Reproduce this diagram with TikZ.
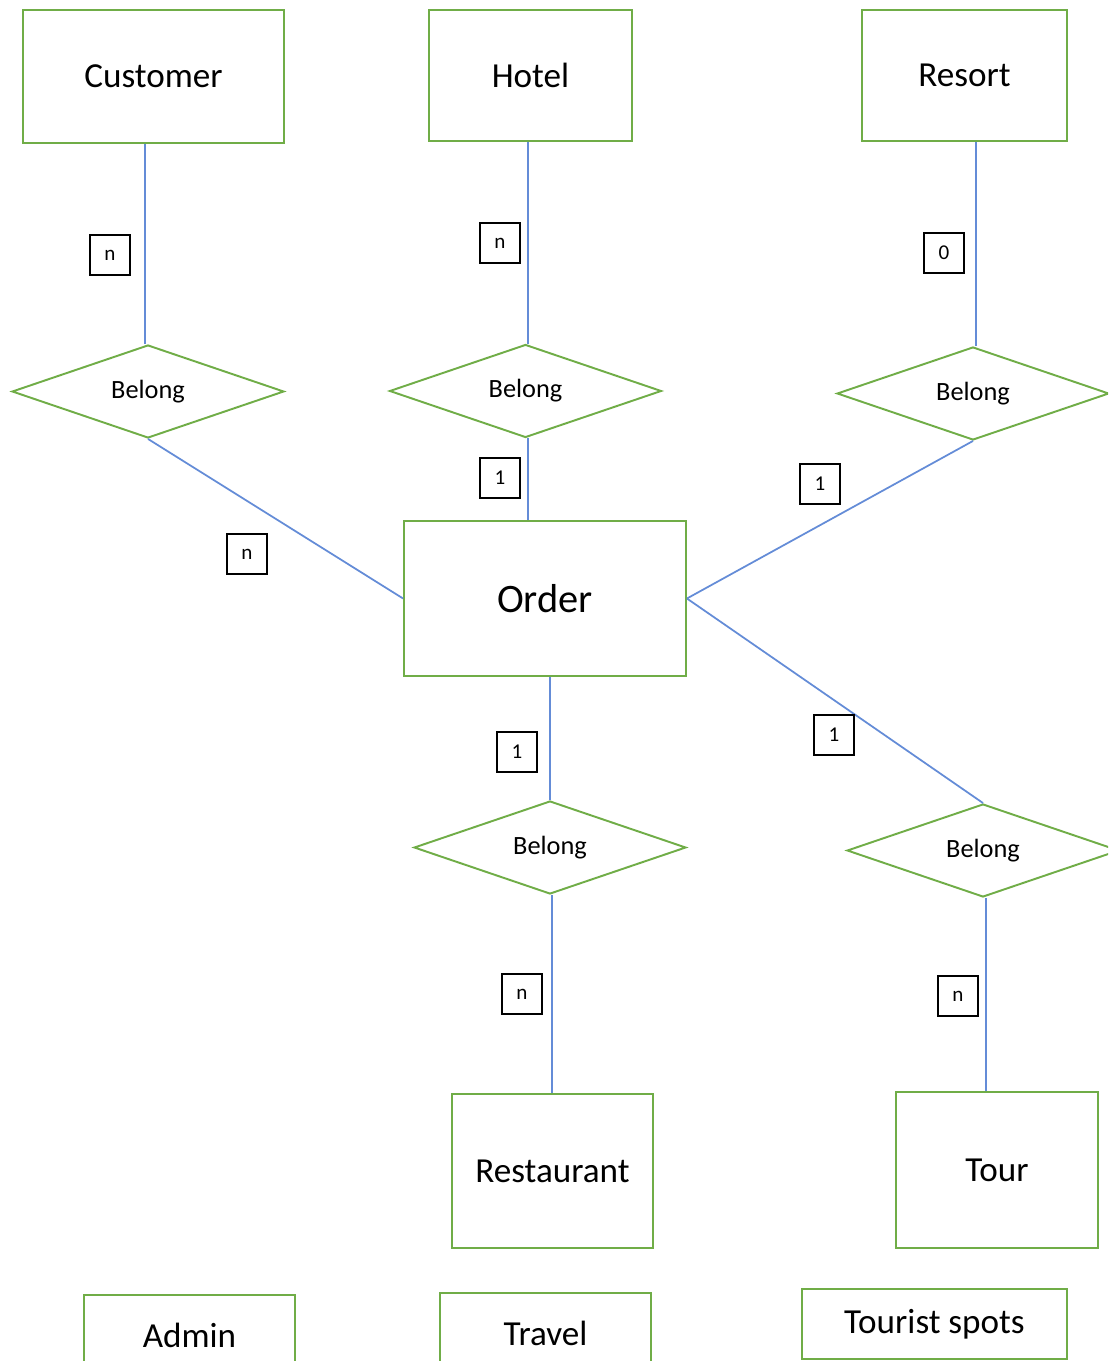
\documentclass[tikz,border=0pt]{standalone}
\usepackage{fontspec}
\setmainfont{Carlito}
\usepackage{tikz}
\usetikzlibrary{shapes.geometric}
\definecolor{boxgreen}{RGB}{112,173,71}
\definecolor{linkblue}{RGB}{100,140,215}

\begin{document}
\begin{tikzpicture}[x=0.02cm,y=-0.02cm,
  entity/.style={draw=boxgreen,line width=1.1pt,fill=white,inner sep=0pt,
    font=\fontsize{20}{24}\selectfont},
  relation/.style={diamond,aspect=3,draw=boxgreen,line width=1.1pt,fill=white,
    inner sep=0pt,minimum width=5.44cm,minimum height=1.86cm,
    font=\fontsize{15}{18}\selectfont},
  card/.style={draw=black,line width=0.8pt,inner sep=0pt,minimum size=0.8cm,
    font=\fontsize{12}{14}\selectfont},
  link/.style={draw=linkblue,line width=1pt}]
  \clip (0,0) rectangle (1108,1361);
  % entities
  \node[entity,minimum width=5.22cm,minimum height=2.66cm] (cust) at (153.5,76.5) {Customer};
  \node[entity,minimum width=4.06cm,minimum height=2.62cm] (hotel) at (530.5,75.5) {Hotel};
  \node[entity,minimum width=4.1cm,minimum height=2.62cm] (resort) at (964.5,75.5) {Resort};
  \node[entity,minimum width=5.64cm,minimum height=3.1cm,
    font=\fontsize{23}{27}\selectfont] (order) at (545,598.5) {Order};
  \node[entity,minimum width=4.02cm,minimum height=3.08cm] (rest) at (552.5,1171) {Restaurant};
  \node[entity,minimum width=4.04cm,minimum height=3.12cm] (tour) at (997,1170) {Tour};
  \node[entity,minimum width=4.22cm,minimum height=1.6cm] (admin) at (189.5,1335) {Admin};
  \node[entity,minimum width=4.22cm,minimum height=1.6cm] (travel) at (545.5,1333) {Travel};
  \node[entity,minimum width=5.3cm,minimum height=1.4cm] (spots) at (934.5,1324) {Tourist spots};
  % relations
  \node[relation] (bcust) at (148,391.5) {Belong};
  \node[relation] (bhotel) at (525.5,391) {Belong};
  \node[relation] (bresort) at (973,393.5) {Belong};
  \node[relation] (brest) at (550,847.5) {Belong};
  \node[relation] (btour) at (983,850.5) {Belong};
  % connectors
  \draw[link] ([xshift=-0.06cm]bcust.north) -- ([xshift=-0.06cm]bcust.north |- cust.south);
  \draw[link] ([xshift=0.05cm]bhotel.north) -- ([xshift=0.05cm]bhotel.north |- hotel.south);
  \draw[link] ([xshift=0.06cm]bresort.north) -- ([xshift=0.06cm]bresort.north |- resort.south);
  \draw[link] (bcust.south) -- (order.west);
  \draw[link] ([xshift=0.05cm]bhotel.south) -- ([xshift=0.05cm]bhotel.south |- order.north);
  \draw[link] (bresort.south) -- (order.east);
  \draw[link] (brest.north) -- (brest.north |- order.south);
  \draw[link] (order.east) -- (btour.north);
  \draw[link] ([xshift=0.04cm]brest.south) -- ([xshift=0.04cm]brest.south |- rest.north);
  \draw[link] ([xshift=0.06cm]btour.south) -- ([xshift=0.06cm]btour.south |- tour.north);
  % cardinalities
  \node[card] (ncust) at (110,255) {n};
  \node[card] (nhotel) at (500,243) {n};
  \node[card] (nresort) at (944,253) {0};
  \node[card] (nohotel) at (500,478) {1};
  \node[card] (nocust) at (247,554) {n};
  \node[card] (noresort) at (820,484) {1};
  \node[card] (norest) at (517,752) {1};
  \node[card] (notour) at (834,735) {1};
  \node[card] (nrest) at (522,994) {n};
  \node[card] (ntour) at (958,996) {n};
\end{tikzpicture}
\end{document}
